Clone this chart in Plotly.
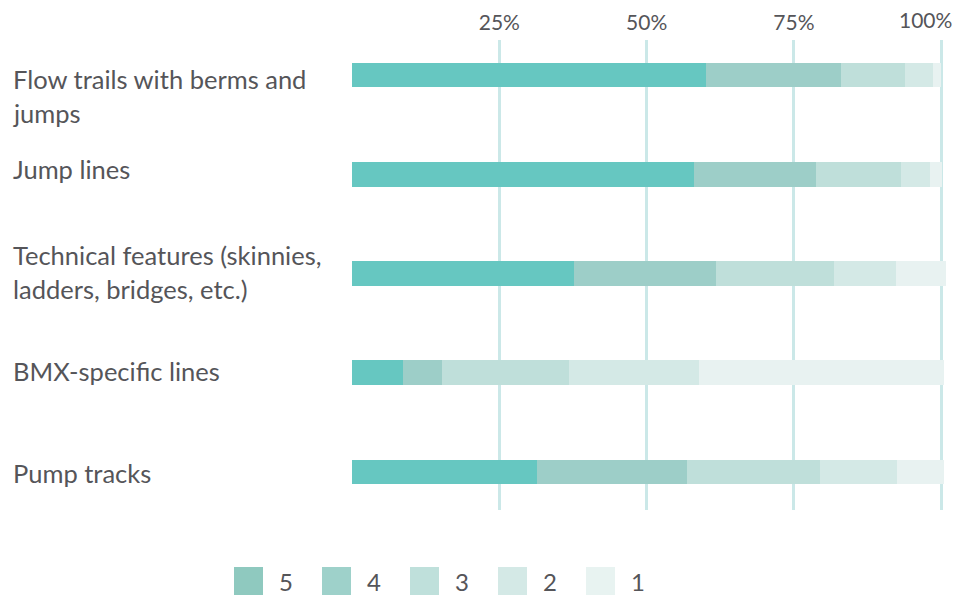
import plotly.graph_objects as go

categories = [
    "Flow trails with berms and<br>jumps",
    "Jump lines",
    "Technical features (skinnies,<br>ladders, bridges, etc.)",
    "BMX-specific lines",
    "Pump tracks",
]
series_names = ["5", "4", "3", "2", "1"]
s5 = [60.1, 58.1, 37.7, 8.7, 31.4]
s4 = [22.8, 20.7, 24.1, 6.5, 25.5]
s3 = [11.0, 14.3, 20.0, 21.7, 22.6]
s2 = [4.75, 4.9, 10.5, 21.9, 12.9]
s1 = [1.35, 2.2, 8.5, 41.6, 8.1]
tick_vals = [25, 50, 75, 100]
tick_text = ["25%", "50%", "75%", "100%"]

series_values = [s5, s4, s3, s2, s1]
bar_colors = ["#66c7c1", "#9dcec8", "#bfdfda", "#d4e9e6", "#e8f2f1"]
legend_colors = ["#8fc9bf", "#9ed1ca", "#bfe0db", "#d4e9e6", "#e8f3f1"]
FONT = "Lato"
TXT = "#555559"

W, H = 957, 595
ML, MR, MT, MB = 352, 11, 40, 85
plot_w = W - ML - MR
plot_h = H - MT - MB

fig = go.Figure()
ypos = list(range(len(categories)))
for name, vals, col in zip(series_names, series_values, bar_colors):
    fig.add_trace(go.Bar(
        x=vals, y=ypos, orientation="h", name=name,
        marker=dict(color=col, line=dict(width=0)),
        width=0.25, showlegend=False, hoverinfo="x+name",
    ))

# category labels, left aligned in the margin
shifts = [-21, 5, 2, 2, -1]
line_gap = 34
for i, (lab, sh) in enumerate(zip(categories, shifts)):
    lines = lab.split("<br>")
    n = len(lines)
    for k, ln in enumerate(lines):
        off = (k - (n - 1) / 2) * line_gap
        fig.add_annotation(
            x=(11 - ML) / plot_w, xref="paper", xanchor="left",
            y=i, yref="y", yanchor="middle", yshift=sh - off,
            text=ln, showarrow=False,
            font=dict(family=FONT, size=25.5, color=TXT),
        )

# manual legend
for j, (name, col) in enumerate(zip(series_names, legend_colors)):
    x0 = 234 + j * 88
    fig.add_shape(
        type="rect", xref="paper", yref="paper",
        x0=(x0 - ML) / plot_w, x1=(x0 + 29 - ML) / plot_w,
        y0=(H - MB - 567) / plot_h, y1=(H - MB - 596) / plot_h,
        fillcolor=col, line=dict(width=0),
    )
    fig.add_annotation(
        x=(x0 + 43 - ML) / plot_w, xref="paper", xanchor="left",
        y=(H - MB - 581) / plot_h, yref="paper", yanchor="middle",
        text=name, showarrow=False,
        font=dict(family=FONT, size=24, color=TXT),
    )

# tick labels: the last one sits left of its gridline in the reference,
# so it is drawn as an annotation anchored to the same axis value
fig.add_annotation(
    x=tick_vals[-1], xref="x", xanchor="center", xshift=-16,
    y=1, yref="paper", yanchor="bottom", yshift=6,
    text=tick_text[-1], showarrow=False,
    font=dict(family=FONT, size=21, color=TXT),
)

fig.update_layout(
    width=W, height=H,
    margin=dict(l=ML, r=MR, t=MT, b=MB, autoexpand=False),
    barmode="stack",
    paper_bgcolor="white", plot_bgcolor="white",
    showlegend=False,
    font=dict(family=FONT, color=TXT),
    xaxis=dict(
        range=[0, 100.8], side="top",
        tickvals=tick_vals, ticktext=tick_text[:-1] + [""],
        showgrid=True, gridcolor="rgba(130,200,200,0.42)", gridwidth=3,
        zeroline=False, showline=False, ticks="",
        tickfont=dict(family=FONT, size=21, color=TXT),
        ticklabelstandoff=5,
        automargin=False,
        layer="above traces", fixedrange=True,
    ),
    yaxis=dict(
        range=[4.383, -0.353], showticklabels=False, showgrid=False,
        zeroline=False, showline=False, ticks="", fixedrange=True,
        automargin=False,
    ),
)

fig.write_html("out.html", config={"displayModeBar": False},
               post_script="document.body.style.margin='0';")
